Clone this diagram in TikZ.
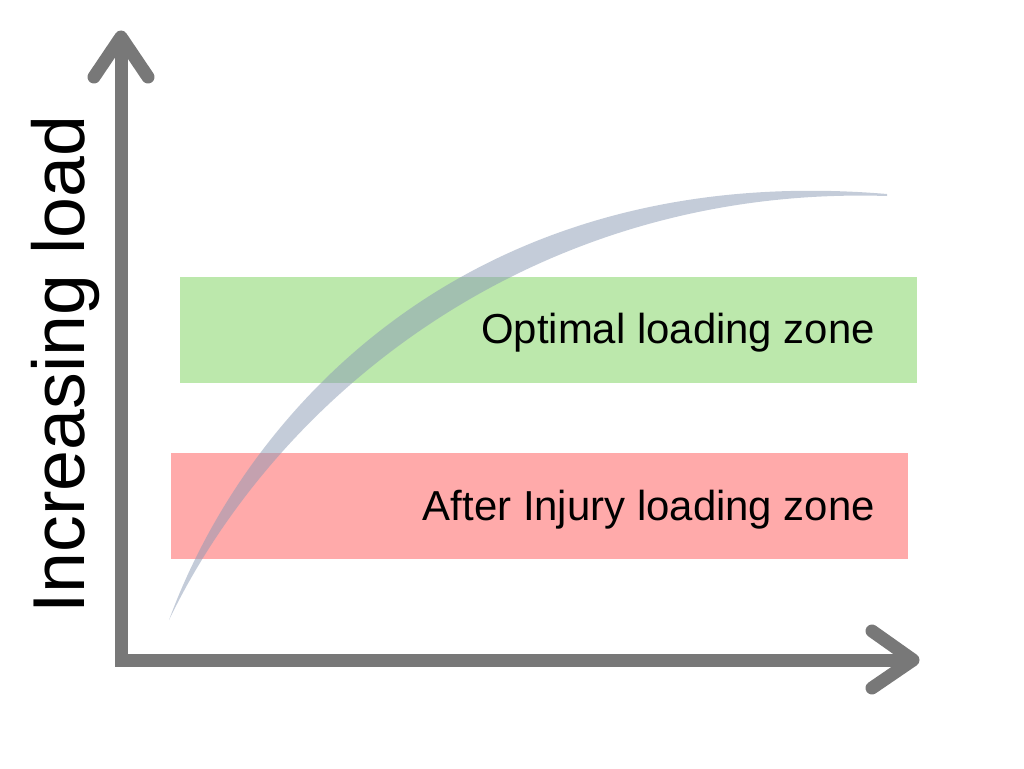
\documentclass[tikz,border=0pt]{standalone}
\usepackage{fontspec}
\setmainfont{Liberation Sans}
\definecolor{axisgray}{RGB}{120,120,120}
\definecolor{zonegreen}{RGB}{188,232,172}
\definecolor{zonered}{RGB}{255,170,170}
\definecolor{swoosh}{RGB}{138,154,180}
\begin{document}
\begin{tikzpicture}[x=1pt,y=-1pt,
  axisline/.style={draw=axisgray,line width=13pt,line join=miter},
  chevron/.style={draw=axisgray,line width=13pt,line cap=round,line join=round},
  zonebox/.style={rectangle,inner sep=0pt,draw=none,anchor=north west},
  zonelabel/.style={inner sep=0pt,anchor=base east,font=\fontsize{41.9}{50}\selectfont},
]
\useasboundingbox (0,0) rectangle (1024,768);
% zones
\node[zonebox,fill=zonegreen,minimum width=737pt,minimum height=106pt] (optbox) at (180,277) {};
\node[zonebox,fill=zonered,minimum width=737pt,minimum height=106pt] (injbox) at (171,453) {};
% swoosh curve
\fill[swoosh,opacity=0.5]
  (169,620) .. controls (250,400) and (480,160) .. (887,194)
  -- (887,196) .. controls (540,185) and (280,390) .. (169,620) -- cycle;
% labels
\node[zonelabel] (optlabel) at (875,343) {Optimal loading zone};
\node[zonelabel] (injlabel) at (875,520) {After Injury loading zone};
\node[inner sep=0pt,anchor=base west,rotate=90,font=\fontsize{73.5}{88}\selectfont] (ylabel) at (84,614) {Increasing load};
% axes
\coordinate (O) at (121,660);
\coordinate (ytip) at (121,37);
\coordinate (xtip) at (913,660);
\coordinate (ya) at (94,77);
\coordinate (yb) at (148,77);
\coordinate (xa) at (872,631);
\coordinate (xb) at (872,688);
\draw[axisline] (ytip) -- (O) -- (xtip);
\draw[chevron] (ya) -- (ytip) -- (yb);
\draw[chevron] (xa) -- (xtip) -- (xb);
\end{tikzpicture}
\end{document}
